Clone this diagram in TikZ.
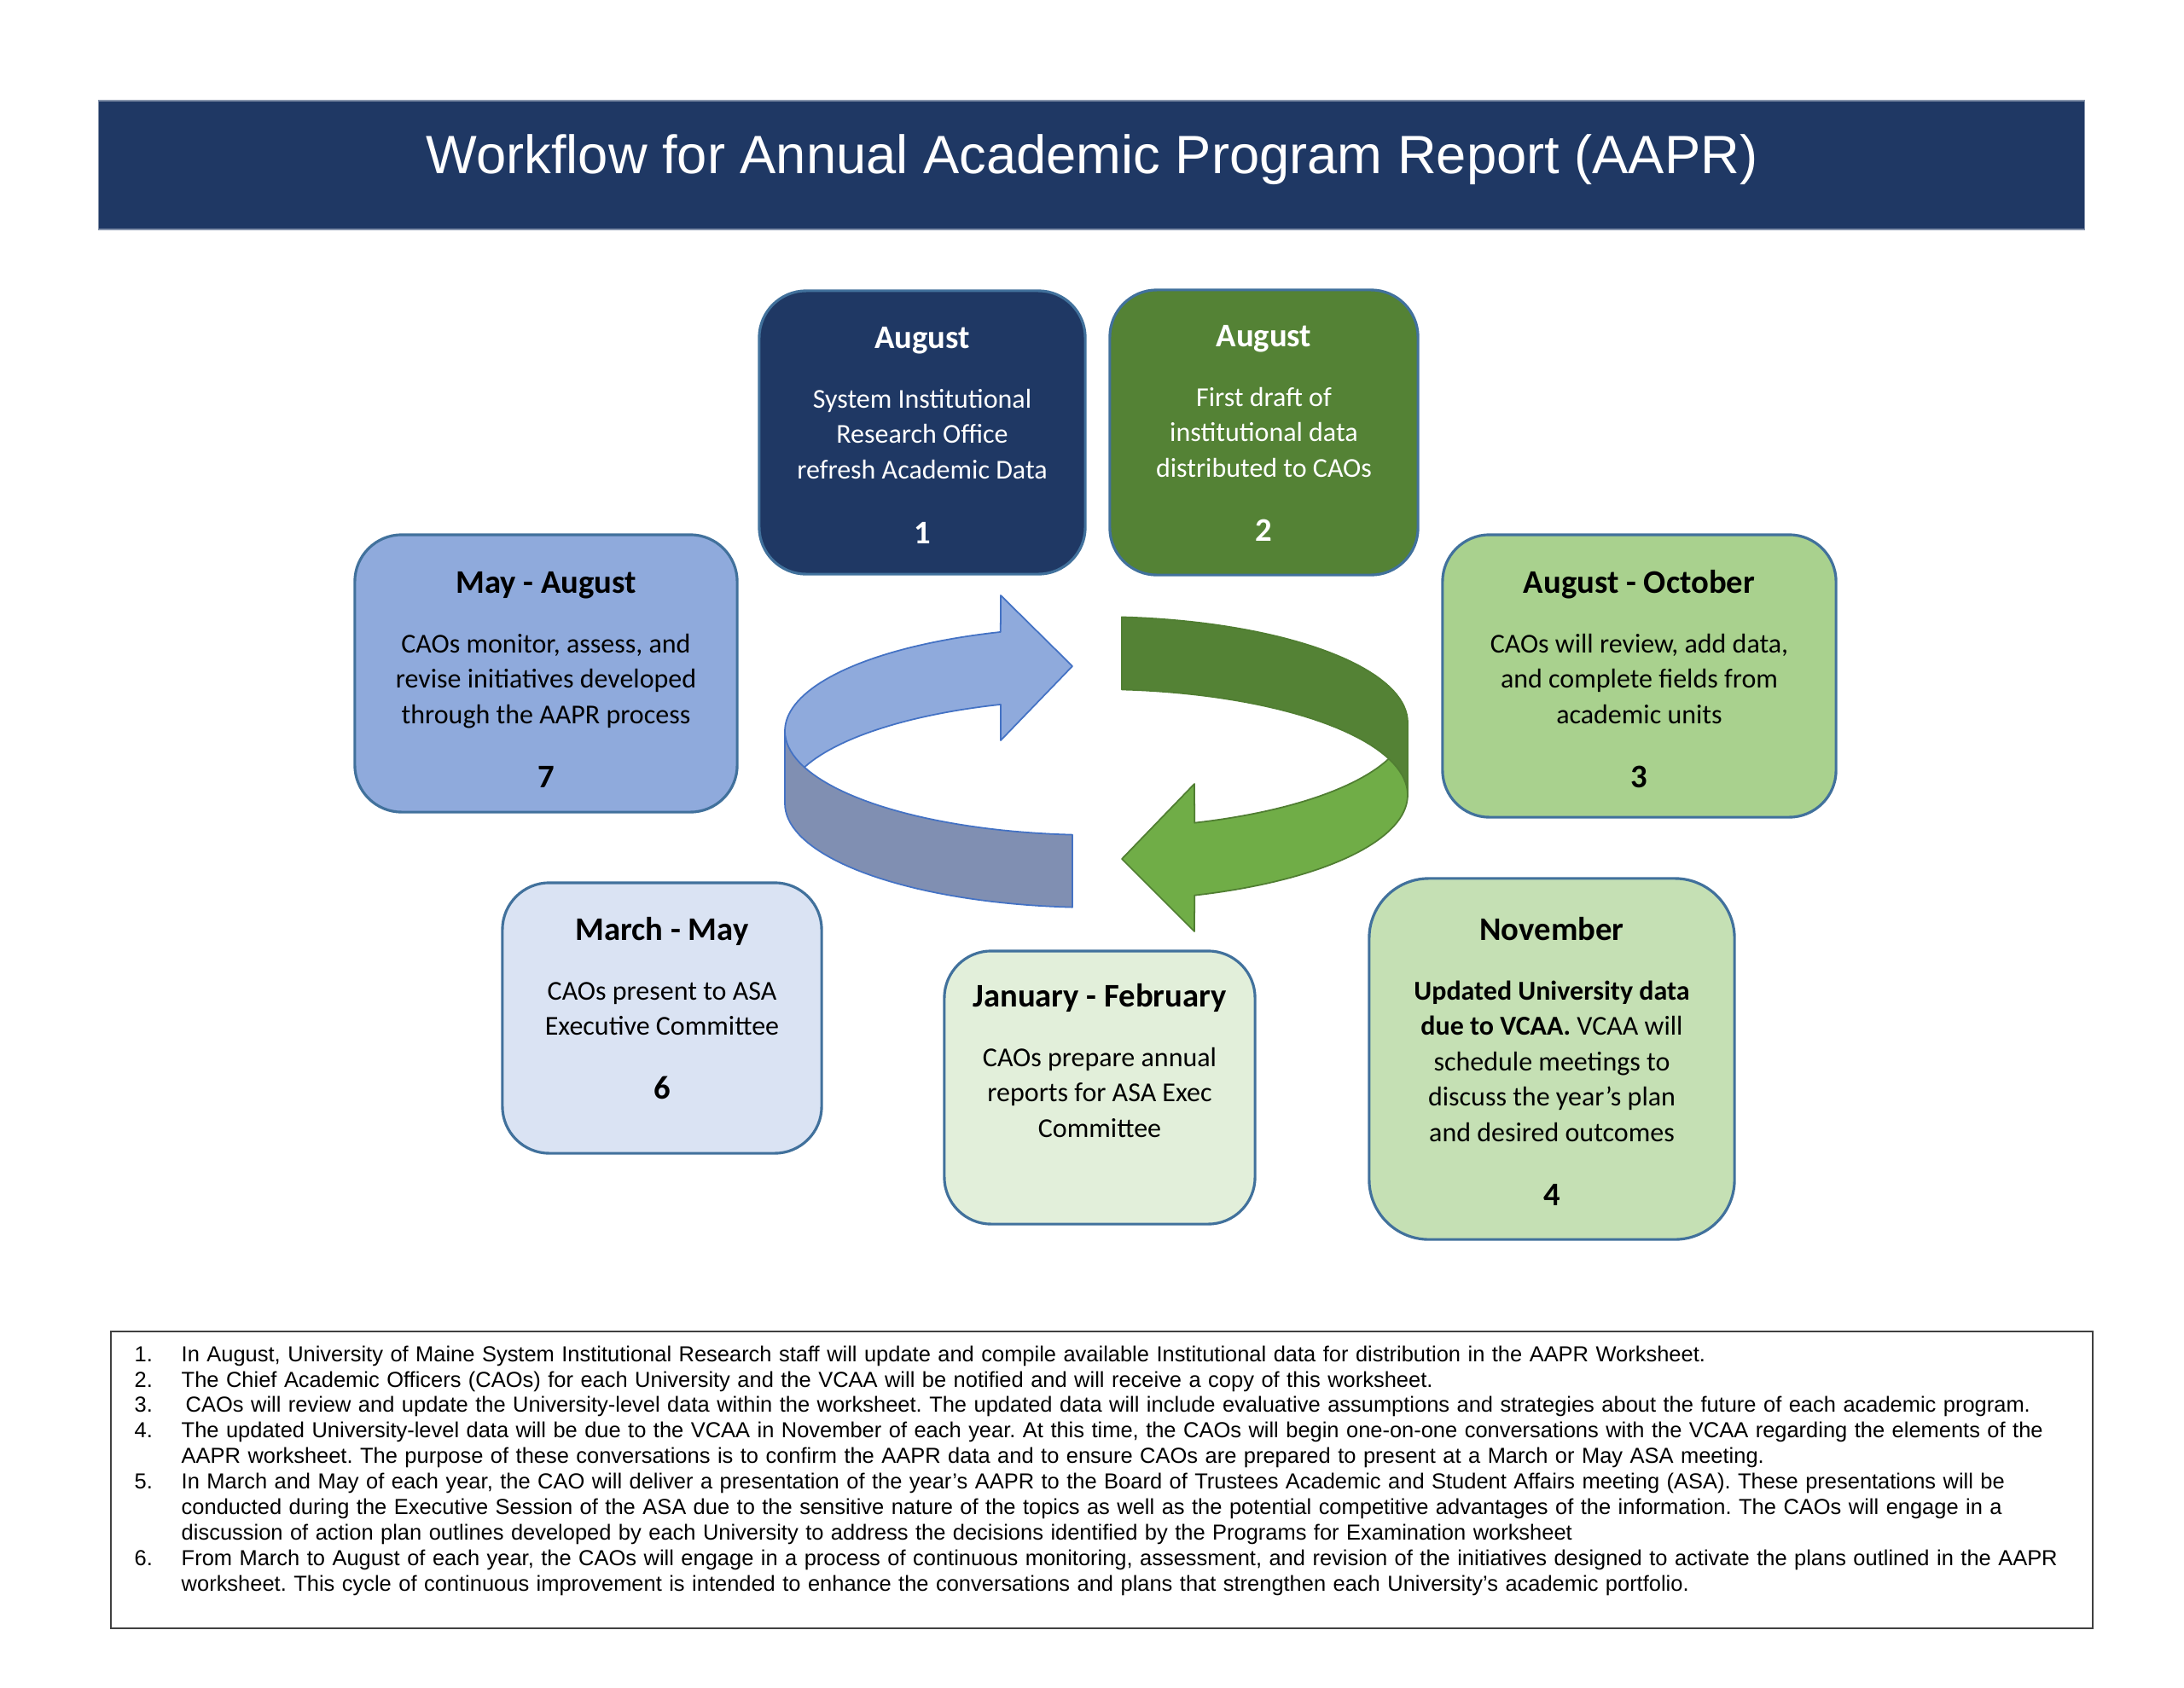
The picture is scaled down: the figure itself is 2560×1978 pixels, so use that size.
\documentclass[tikz,border=0pt]{standalone}
\usepackage{fontspec}
\setmainfont{Carlito}
\newfontfamily\arialfont{Liberation Sans}
\usepackage{xcolor}
\definecolor{navy}{RGB}{31, 56, 100}
\definecolor{boxline}{RGB}{65, 113, 156}
\definecolor{darkgreen}{RGB}{84, 130, 53}
\definecolor{midgreen}{RGB}{169, 209, 142}
\definecolor{palegreen}{RGB}{197, 224, 180}
\definecolor{mintgreen}{RGB}{226, 239, 218}
\definecolor{paleblue}{RGB}{218, 227, 243}
\definecolor{softblue}{RGB}{143, 170, 220}
\definecolor{ribbonfront}{RGB}{128, 143, 178}
\definecolor{ribbonline}{RGB}{68, 114, 196}
\definecolor{leafgreen}{RGB}{112, 173, 71}
\definecolor{leafline}{RGB}{80, 126, 50}
\definecolor{notesline}{RGB}{64, 64, 64}
\newcommand{\monthfont}{\fontsize{11}{13}\selectfont\bfseries}
\newcommand{\monthhead}[1]{{\monthfont\rule{0pt}{8.5pt}#1}}
\newcommand{\stagefont}{\fontsize{9.1}{11.8}\selectfont}
\newcommand{\titlefont}{\arialfont\fontsize{18}{21}\selectfont}
\newcommand{\notefont}{\arialfont\fontsize{7.24}{8.5}\selectfont\frenchspacing}
\newcommand{\noteitem}[2]{\noindent\hangindent=0.55cm\hangafter=1\makebox[0.55cm][l]{#1}#2\par}

\begin{document}
\begin{tikzpicture}[
    x=0.01cm, y=-0.01cm,
    titlebar/.style={rectangle, fill=navy, draw=navy!55, line width=0.4pt, minimum width=23.27cm, minimum height=1.51cm},
    titletext/.style={anchor=base, inner sep=0pt, text=white, font=\titlefont},
    stage/.style={rectangle, rounded corners=0.55cm, draw=boxline, line width=0.9pt},
    stagetext/.style={anchor=north, align=center, inner sep=0pt, font=\stagefont},
    ribbon/.style={line width=0.5pt, line join=round},
    notesbox/.style={rectangle, draw=notesline, line width=0.6pt, minimum width=23.21cm, minimum height=3.48cm},
    notes/.style={anchor=north west, text width=22.9cm, align=left, inner sep=0pt, font=\notefont}
]

% page
\fill[white] (0,0) rectangle (2560,1978);
\useasboundingbox (0,0) rectangle (2560,1978);

% title
\node[titlebar] (titlebar) at (1279.5,193.5) {};
\node[titletext] (title) at (1280,203) {Workflow for Annual Academic Program Report (AAPR)};

% cycle arrows - blue
\draw[ribbon, draw=ribbonline, fill=softblue]
  (1173,698) -- (1257,781) -- (1173,868) -- (1173,826)
  -- plot[domain=107.9:180, samples=40] ({1285+365*cos(\x)}, {942-122*sin(\x)})
  -- plot[domain=180:107.9, samples=40] ({1285+365*cos(\x)}, {857-122*sin(\x)})
  -- cycle;
\draw[ribbon, draw=ribbonline, fill=ribbonfront]
  plot[domain=180:265.6, samples=40] ({1285+365*cos(\x)}, {857-122*sin(\x)})
  -- plot[domain=265.6:180, samples=40] ({1285+365*cos(\x)}, {942-122*sin(\x)})
  -- cycle;

% cycle arrows - green
\draw[ribbon, draw=leafline, fill=leafgreen]
  plot[domain=360:288.4, samples=40] ({1285+365*cos(\x)}, {847-124*sin(\x)})
  -- (1400,919) -- (1315,1007) -- (1400,1092)
  -- plot[domain=288.4:360, samples=40] ({1285+365*cos(\x)}, {932-124*sin(\x)})
  -- cycle;
\draw[ribbon, draw=leafline, fill=darkgreen]
  plot[domain=85.3:0, samples=40] ({1285+365*cos(\x)}, {847-124*sin(\x)})
  -- plot[domain=0:85.3, samples=40] ({1285+365*cos(\x)}, {932-124*sin(\x)})
  -- cycle;

% stage boxes
\node[stage, fill=navy, minimum width=3.82cm, minimum height=3.32cm] (aug1) at (1081,507) {};
\node[stage, fill=darkgreen, minimum width=3.61cm, minimum height=3.34cm] (aug2) at (1481.5,507) {};
\node[stage, fill=midgreen, minimum width=4.61cm, minimum height=3.31cm] (augoct) at (1921.5,792.5) {};
\node[stage, fill=palegreen, rounded corners=0.7cm, minimum width=4.28cm, minimum height=4.23cm] (nov) at (1819,1241.5) {};
\node[stage, fill=mintgreen, minimum width=3.64cm, minimum height=3.2cm] (janfeb) at (1289,1275) {};
\node[stage, fill=paleblue, minimum width=3.74cm, minimum height=3.17cm] (marmay) at (776,1193.5) {};
\node[stage, fill=softblue, minimum width=4.48cm, minimum height=3.25cm] (mayaug) at (640,789.5) {};

% stage texts
\node[stagetext, text=white] (aug1txt) at ([yshift=-0.39cm]aug1.north)
  {\monthhead{August}\\[7.9pt]System Institutional\\Research Office\\refresh Academic Data\\[9.8pt]\monthhead{1}};
\node[stagetext, text=white] (aug2txt) at ([yshift=-0.38cm]aug2.north)
  {\monthhead{August}\\[7.9pt]First draft of\\institutional data\\distributed to CAOs\\[9.6pt]\monthhead{2}};
\node[stagetext] (augocttxt) at ([yshift=-0.40cm]augoct.north)
  {\monthhead{August - October}\\[7.9pt]CAOs will review, add data,\\and complete fields from\\academic units\\[9.6pt]\monthhead{3}};
\node[stagetext] (novtxt) at ([yshift=-0.44cm]nov.north)
  {\monthhead{November}\\[7.9pt]\textbf{Updated University data}\\\textbf{due to VCAA.} VCAA will\\schedule meetings to\\discuss the year’s plan\\and desired outcomes\\[9.6pt]\monthhead{4}};
\node[stagetext] (janfebtxt) at ([yshift=-0.37cm]janfeb.north)
  {\monthhead{January - February}\\[7.9pt]CAOs prepare annual\\reports for ASA Exec\\Committee};
\node[stagetext] (marmaytxt) at ([yshift=-0.39cm]marmay.north)
  {\monthhead{March - May}\\[7.9pt]CAOs present to ASA\\Executive Committee\\[9.6pt]\monthhead{6}};
\node[stagetext] (mayaugtxt) at ([yshift=-0.40cm]mayaug.north)
  {\monthhead{May - August}\\[7.9pt]CAOs monitor, assess, and\\revise initiatives developed\\through the AAPR process\\[9.6pt]\monthhead{7}};

% notes
\node[notesbox] (notesframe) at (1291.5,1735) {};
\node[notes] (notestxt) at (157,1577) {%
\noteitem{1.}{In August, University of Maine System Institutional Research staff will update and compile available Institutional data for distribution in the AAPR Worksheet.}
\noteitem{2.}{The Chief Academic Officers (CAOs) for each University and the VCAA will be notified and will receive a copy of this worksheet.}
\noteitem{3.}{\hspace{0.05cm}CAOs will review and update the University-level data within the worksheet. The updated data will include evaluative assumptions and strategies about the future of each academic program.}
\noteitem{4.}{The updated University-level data will be due to the VCAA in November of each year. At this time, the CAOs will begin one-on-one conversations with the VCAA regarding the elements of the\newline AAPR worksheet. The purpose of these conversations is to confirm the AAPR data and to ensure CAOs are prepared to present at a March or May ASA meeting.}
\noteitem{5.}{In March and May of each year, the CAO will deliver a presentation of the year’s AAPR to the Board of Trustees Academic and Student Affairs meeting (ASA). These presentations will be\newline conducted during the Executive Session of the ASA due to the sensitive nature of the topics as well as the potential competitive advantages of the information. The CAOs will engage in a\newline discussion of action plan outlines developed by each University to address the decisions identified by the Programs for Examination worksheet}
\noteitem{6.}{From March to August of each year, the CAOs will engage in a process of continuous monitoring, assessment, and revision of the initiatives designed to activate the plans outlined in the AAPR\newline worksheet. This cycle of continuous improvement is intended to enhance the conversations and plans that strengthen each University’s academic portfolio.}};

\end{tikzpicture}
\end{document}
